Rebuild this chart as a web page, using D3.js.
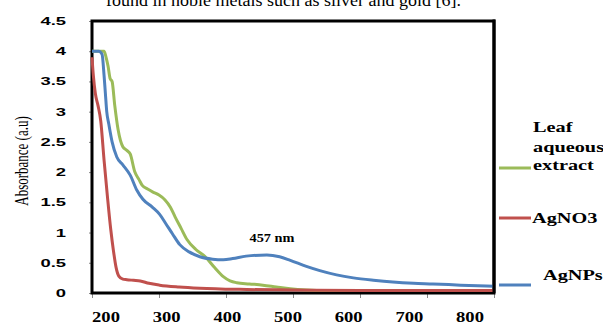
<!DOCTYPE html>
<html>
<head>
<meta charset="utf-8">
<script src="https://cdn.jsdelivr.net/npm/d3@7"></script>
<style>
  body { margin: 0; background: #fff; }
  svg { display: block; }
</style>
</head>
<body>
<svg id="chart" width="603" height="324"></svg>
<script>
// wavelength (nm) / absorbance
leafWl  = [200,210,218,221,224,227,230,234,239,246,252,257,264,270,275,283,291,300,309,317,324,333,342,355,369,383,396,406,416,435,455,475,496,520,550,600,700,800]
leafAbs = [4.0,4.0,4.0,3.9,3.75,3.55,3.5,3.1,2.7,2.42,2.36,2.3,2.0,1.88,1.78,1.72,1.67,1.62,1.54,1.42,1.26,1.07,0.88,0.72,0.6,0.42,0.27,0.2,0.17,0.15,0.13,0.1,0.07,0.05,0.04,0.04,0.04,0.04]

agno3Wl  = [200,202,205,209,213,218,223,228,232,236,240,246,252,262,272,285,301,330,361,420,500,600,700,800]
agno3Abs = [3.9,3.6,3.3,3.1,2.85,2.2,1.6,1.05,0.7,0.42,0.28,0.23,0.22,0.21,0.2,0.16,0.13,0.1,0.08,0.06,0.05,0.04,0.04,0.04]

agnpWl  = [200,205,210,215,218,220,222,225,230,237,246,257,267,276,290,301,310,320,331,345,361,380,396,410,430,461,480,496,520,540,565,590,620,649,680,709,750,800]
agnpAbs = [4.0,4.0,4.0,3.95,3.6,3.3,3.0,2.8,2.5,2.25,2.12,1.95,1.7,1.55,1.42,1.3,1.15,0.98,0.8,0.68,0.6,0.56,0.55,0.57,0.61,0.63,0.6,0.54,0.44,0.37,0.3,0.25,0.21,0.18,0.16,0.15,0.13,0.11]

xTicks = [200,300,400,500,600,700,800]
yTicks = [0,0.5,1,1.5,2,2.5,3,3.5,4,4.5]

seriesNames  = ["Leaf aqueous extract","AgNO3","AgNPs"]
seriesColors = ["#9BBB59","#C0504D","#4F81BD"]

svg = d3.select("#chart")

// (window.top is read only, so no "top" here)
plotL = 92, plotR = 494, plotT = 21, plotB = 293

xScale = d3.scaleLinear().domain([200,800]).range([plotL,plotR])
// labels sit a little off their ticks in the picture
xLabelScale = d3.scaleLinear().domain([200,800]).range([106,470])
yScale = d3.scaleLinear().domain([0,4.5]).range([plotB,plotT])

// cut off sentence above the figure
svg.append("text")
    .attr("transform","translate(106,6) scale(1.06,1)")
    .style("font-family","Liberation Serif, Times New Roman, serif")
    .style("font-size","17px")
    .text("found in noble metals such as silver and gold [6].")

// ticks
svg.append("g")
    .attr("transform",`translate(${plotL},0)`)
    .call(d3.axisLeft(yScale).tickValues(yTicks).tickSize(3).tickFormat(""))
    .call(g => g.select(".domain").remove())
    .call(g => g.selectAll("line").attr("stroke","#888"))

svg.append("g")
    .attr("transform",`translate(0,${plotB})`)
    .call(d3.axisBottom(xScale).tickValues(xTicks).tickSize(5).tickFormat(""))
    .call(g => g.select(".domain").remove())
    .call(g => g.selectAll("line").attr("stroke","#888"))

// y tick labels
svg.append("g").selectAll("text")
    .data(yTicks)
    .join("text")
    .attr("transform", d => `translate(66,${yScale(d)+4}) scale(1.6,1)`)
    .attr("text-anchor","end")
    .style("font-family","Liberation Sans, Arial, sans-serif")
    .style("font-weight","bold")
    .style("font-size","11.5px")
    .text(d => d)

// x tick labels
svg.append("g").selectAll("text")
    .data(xTicks)
    .join("text")
    .attr("transform", d => `translate(${xLabelScale(d)},322) scale(1.33,1)`)
    .attr("text-anchor","middle")
    .style("font-family","Liberation Serif, Times New Roman, serif")
    .style("font-weight","bold")
    .style("font-size","14px")
    .text(d => d)

// y axis title
svg.append("text")
    .attr("transform","translate(28,161) rotate(-90) scale(1,1.4)")
    .attr("text-anchor","middle")
    .style("font-family","Liberation Serif, Times New Roman, serif")
    .style("font-size","13px")
    .text("Absorbance (a.u)")

// frame
svg.append("rect")
    .attr("x",plotL).attr("y",plotT)
    .attr("width",plotR-plotL).attr("height",plotB-plotT)
    .attr("fill","none")
    .attr("stroke","#000")
    .attr("stroke-width",3)

line = d3.line()
    .x(d => xScale(d[0]))
    .y(d => yScale(d[1]))
    .curve(d3.curveMonotoneX)

series = [
    d3.zip(leafWl, leafAbs),
    d3.zip(agno3Wl, agno3Abs),
    d3.zip(agnpWl, agnpAbs)
]

svg.append("g").selectAll("path")
    .data(series)
    .join("path")
    .attr("d", line)
    .attr("fill","none")
    .attr("stroke", (d,i) => seriesColors[i])
    .attr("stroke-width",3)
    .attr("stroke-linejoin","round")

// redraw right border over line ends
svg.append("line")
    .attr("x1",plotR).attr("x2",plotR)
    .attr("y1",plotT-1.5).attr("y2",plotB)
    .attr("stroke","#000").attr("stroke-width",3)

// peak annotation
svg.append("text")
    .attr("transform","translate(272,242) scale(1.1,1)")
    .attr("text-anchor","middle")
    .style("font-family","Liberation Serif, Times New Roman, serif")
    .style("font-weight","bold")
    .style("font-size","13px")
    .text("457 nm")

// legend
legendLines = [[["Leaf","aqueous","extract"],168],[["AgNO3"],218],[["AgNPs"],285]]
legendTextX = [533,532,543]
legendBase  = [[132,152,170],[223],[280]]

legend = svg.append("g")
legendLines.forEach(function(item, i){
    legend.append("line")
        .attr("x1",499).attr("x2",531)
        .attr("y1",item[1]).attr("y2",item[1])
        .attr("stroke",seriesColors[i])
        .attr("stroke-width",3)
    item[0].forEach(function(word, j){
        legend.append("text")
            .attr("transform",`translate(${legendTextX[i]},${legendBase[i][j]}) scale(1.45,1)`)
            .style("font-family","Liberation Serif, Times New Roman, serif")
            .style("font-weight","bold")
            .style("font-size","14px")
            .text(word)
    })
})
</script>
</body>
</html>
